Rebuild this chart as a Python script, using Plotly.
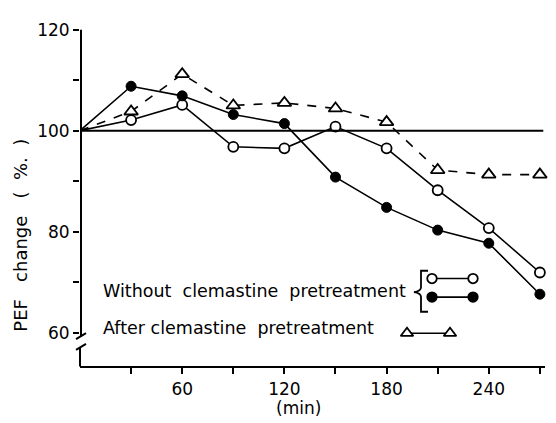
import plotly.graph_objects as go

minutes = [0, 30, 60, 90, 120, 150, 180, 210, 240, 270]
without_open = [100, 102.1, 105.1, 96.8, 96.5, 100.8, 96.5, 88.2, 80.7, 71.9]
without_filled = [100, 108.8, 106.9, 103.2, 101.4, 90.8, 84.8, 80.3, 77.7, 67.6]
after_clem = [100, 103.8, 111.2, 105.0, 105.5, 104.4, 101.7, 92.2, 91.3, 91.3]

x_ticks = [30, 60, 90, 120, 150, 180, 210, 240, 270]
x_ticklabels = ["", "60", "", "120", "", "180", "", "240", ""]
y_ticks = [60, 70, 80, 90, 100, 110, 120]
y_ticklabels = ["60", "", "80", "", "100", "", "120"]

legend_without = "Without  clemastine  pretreatment"
legend_after = "After clemastine  pretreatment"

FONT = "DejaVu Sans"
W, H = 556, 423
O = 8  # page body offset
FW, FH = W - O, H - O
# plot area in reference pixels
PX0, PX1, PY0, PY1 = 80, 545, 20, 365
XR = [0, 273]
YR = [53.3, 120]


def sizes(n, s):
    # no marker at the common starting point (t = 0)
    return [0] + [s] * (n - 1)


fig = go.Figure()

fig.add_trace(go.Scatter(x=minutes, y=after_clem, mode="lines+markers",
                         line=dict(color="black", width=1.6, dash="dash"),
                         marker=dict(symbol="triangle-up", size=sizes(len(minutes), 12),
                                     opacity=1, color="white",
                                     line=dict(color="black", width=1.8)),
                         cliponaxis=False, showlegend=False))
fig.add_trace(go.Scatter(x=minutes, y=without_open, mode="lines+markers",
                         line=dict(color="black", width=1.6),
                         marker=dict(symbol="circle", size=sizes(len(minutes), 10),
                                     opacity=1, color="white",
                                     line=dict(color="black", width=1.8)),
                         cliponaxis=False, showlegend=False))
fig.add_trace(go.Scatter(x=minutes, y=without_filled, mode="lines+markers",
                         line=dict(color="black", width=1.6),
                         marker=dict(symbol="circle", size=sizes(len(minutes), 10),
                                     opacity=1, color="black",
                                     line=dict(color="black", width=1)),
                         cliponaxis=False, showlegend=False))


# legend samples on a pixel overlay axis (reference pixel coordinates)
def px_trace(xs, ys, symbol, fill):
    fig.add_trace(go.Scatter(x=xs, y=ys, xaxis="x2", yaxis="y2", mode="lines+markers",
                             line=dict(color="black", width=1.6),
                             marker=dict(symbol=symbol, size=9.5 if symbol == "circle" else 11,
                                         opacity=1, color=fill,
                                         line=dict(color="black", width=1.8)),
                             cliponaxis=False, showlegend=False, hoverinfo="skip"))


px_trace([432, 473], [275, 275], "circle", "white")
px_trace([432, 473], [294, 294], "circle", "black")
px_trace([407, 450], [331, 331], "triangle-up", "white")

shapes = []
# reference line at 100
shapes.append(dict(type="line", xref="x", yref="y", x0=0, x1=272, y0=100, y1=100,
                   line=dict(color="black", width=2)))


# broken y axis (pixel coords)
def pxline(x0, y0, x1, y1, w=2):
    shapes.append(dict(type="line", xref="x2", yref="y2", x0=x0, y0=y0, x1=x1, y1=y1,
                       line=dict(color="black", width=w)))


pxline(81, 20, 81, 335)
pxline(76, 337, 86, 331)
pxline(76, 348, 86, 342)
pxline(80, 346, 80, 365)
# brace
shapes.append(dict(type="path", xref="x2", yref="y2",
                   path="M 428 267 L 421 267 L 421 284 Q 421 288 414 289 "
                        "Q 421 290 421 294 L 421 309 L 428 309",
                   line=dict(color="black", width=1.8)))

annotations = [
    dict(xref="x2", yref="y2", x=101, y=288, text=legend_without, showarrow=False,
         xanchor="left", yanchor="middle", font=dict(family=FONT, size=17.5, color="black")),
    dict(xref="x2", yref="y2", x=101, y=326, text=legend_after, showarrow=False,
         xanchor="left", yanchor="middle", font=dict(family=FONT, size=17.5, color="black")),
    dict(xref="x2", yref="y2", x=298, y=408, text="(min)", showarrow=False,
         xanchor="center", yanchor="middle", font=dict(family=FONT, size=17, color="black")),
    dict(xref="x2", yref="y2", x=21, y=231, text="PEF   change   (  %.  )", showarrow=False,
         textangle=-90, xanchor="center", yanchor="middle",
         font=dict(family=FONT, size=18, color="black")),
]

fig.update_layout(
    width=FW, height=FH, margin=dict(l=0, r=0, t=0, b=0, pad=0),
    paper_bgcolor="white", plot_bgcolor="rgba(0,0,0,0)",
    font=dict(family=FONT, size=17, color="black"),
    shapes=shapes, annotations=annotations,
    xaxis=dict(domain=[(PX0 - O) / FW, (PX1 - O) / FW], range=XR,
               tickvals=x_ticks, ticktext=x_ticklabels, ticks="outside",
               ticklen=6, tickwidth=2, tickcolor="black", showline=True, linecolor="black",
               linewidth=2, showgrid=False, zeroline=False, anchor="y",
               tickfont=dict(family=FONT, size=17)),
    yaxis=dict(domain=[(H - PY1) / FH, (H - PY0) / FH], range=YR,
               tickvals=y_ticks, ticktext=y_ticklabels, ticks="outside",
               ticklen=6, tickwidth=2, tickcolor="black", showline=False, showgrid=False,
               zeroline=False, anchor="x", tickfont=dict(family=FONT, size=17)),
    xaxis2=dict(range=[O, W], domain=[0, 1], visible=False, anchor="y2", fixedrange=True),
    yaxis2=dict(range=[H, O], domain=[0, 1], visible=False, anchor="x2", fixedrange=True),
)

fig.write_html("out.html")
